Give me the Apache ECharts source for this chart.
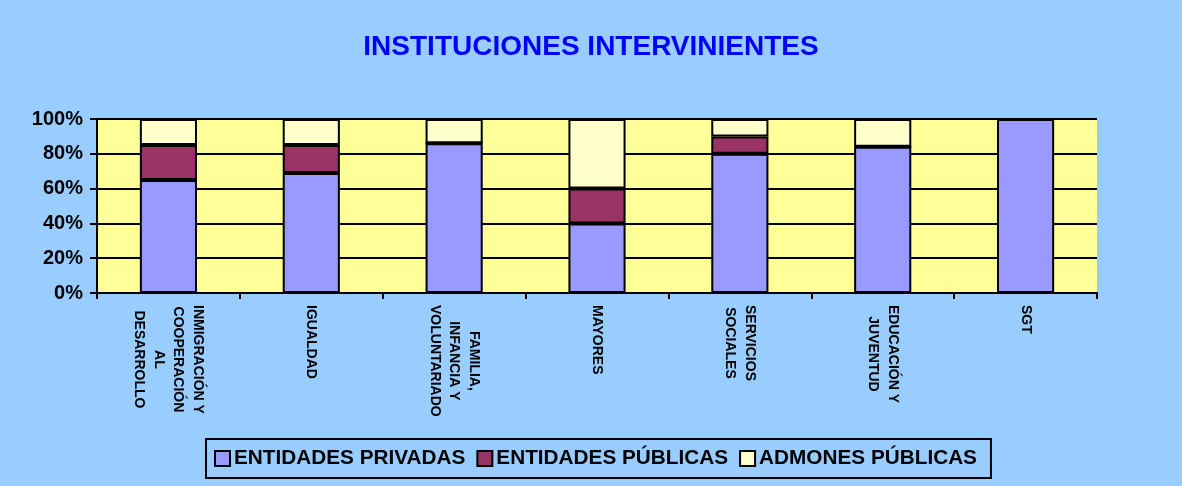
<!DOCTYPE html>
<html>
<head>
<meta charset="utf-8">
<title>INSTITUCIONES INTERVINIENTES</title>
<script src="https://cdn.jsdelivr.net/npm/echarts@6/dist/echarts.min.js"></script>
<style>
  html, body { margin: 0; padding: 0; background: #99CCFF; }
  #grafico { width: 1182px; height: 486px; }
</style>
</head>
<body>
<div id="grafico"></div>
<script>
// categorias del eje x
var categorias = [
    'INMIGRACIÓN Y\nCOOPERACIÓN\nAL\nDESARROLLO',
    'IGUALDAD',
    'FAMILIA,\nINFANCIA Y\nVOLUNTARIADO',
    'MAYORES',
    'SERVICIOS\nSOCIALES',
    'EDUCACIÓN Y\nJUVENTUD',
    'SGT'
]
// porcentajes de cada serie
var entidadesPrivadas = [65, 69, 86, 40, 80, 84, 100]
var entidadesPublicas = [20, 16, 0, 20, 10, 0, 0]
var admonesPublicas = [15, 15, 14, 40, 10, 16, 0]
var ticksY = [0, 20, 40, 60, 80, 100]

var fuente = 'Liberation Sans, Arial, sans-serif'

function serie (nombre, datos, color) {
    return {
        name: nombre,
        type: 'bar',
        stack: 'total',
        barWidth: '40%',
        data: datos,
        itemStyle: { color: color, borderColor: '#000', borderWidth: 2 }
    }
}

var grafico = echarts.init(document.getElementById('grafico'))

var opcion = {
    backgroundColor: '#99CCFF',
    animation: false,
    title: {
        text: 'INSTITUCIONES INTERVINIENTES',
        left: 'center',
        top: 27,
        textStyle: { color: '#0000FF', fontSize: 28, fontWeight: 'bold', fontFamily: fuente, lineHeight: 30 }
    },
    legend: {
        left: 206,
        top: 439,
        padding: [9, 14, 9, 8],
        itemWidth: 15,
        itemHeight: 15,
        itemGap: 11,
        borderColor: '#000',
        borderWidth: 2,
        icon: 'rect',
        itemStyle: { borderColor: '#000', borderWidth: 2 },
        textStyle: { color: '#000', fontSize: 20.75, fontWeight: 'bold', fontFamily: fuente, padding: [0, 0, 0, -1] },
        data: ['ENTIDADES PRIVADAS', 'ENTIDADES PÚBLICAS', 'ADMONES PÚBLICAS']
    },
    grid: {
        left: 97,
        right: 85,
        top: 119,
        bottom: 193,
        show: true,
        backgroundColor: '#FFFF99',
        borderWidth: 0
    },
    xAxis: {
        type: 'category',
        data: categorias,
        axisLine: { lineStyle: { color: '#000', width: 2 } },
        axisTick: { show: true, length: 6, lineStyle: { color: '#000', width: 2 } },
        axisLabel: {
            rotate: -90,
            margin: 12,
            interval: 0,
            color: '#000',
            formatter: function (valor) {
                return valor.split('\n').map(function (s) { return '{c|' + s + '}' }).join('\n')
            },
            rich: {
                c: { align: 'center', fontSize: 14, fontWeight: 'bold', fontFamily: fuente, lineHeight: 19.5, color: '#000' }
            }
        }
    },
    yAxis: {
        type: 'value',
        min: ticksY[0],
        max: ticksY[ticksY.length - 1],
        interval: 20,
        axisLine: { show: true, lineStyle: { color: '#000', width: 2 } },
        axisTick: { show: true, length: 7, lineStyle: { color: '#000', width: 2 } },
        splitLine: { lineStyle: { color: '#000', width: 2 } },
        axisLabel: {
            margin: 14,
            color: '#000',
            fontSize: 20,
            fontWeight: 'bold',
            fontFamily: fuente,
            formatter: '{value}%'
        }
    },
    series: [
        serie('ENTIDADES PRIVADAS', entidadesPrivadas, '#9999FF'),
        serie('ENTIDADES PÚBLICAS', entidadesPublicas, '#993366'),
        serie('ADMONES PÚBLICAS', admonesPublicas, '#FFFFCC')
    ]
}

grafico.setOption(opcion)

window.onresize = function () {
    grafico.resize()
}
</script>
</body>
</html>
